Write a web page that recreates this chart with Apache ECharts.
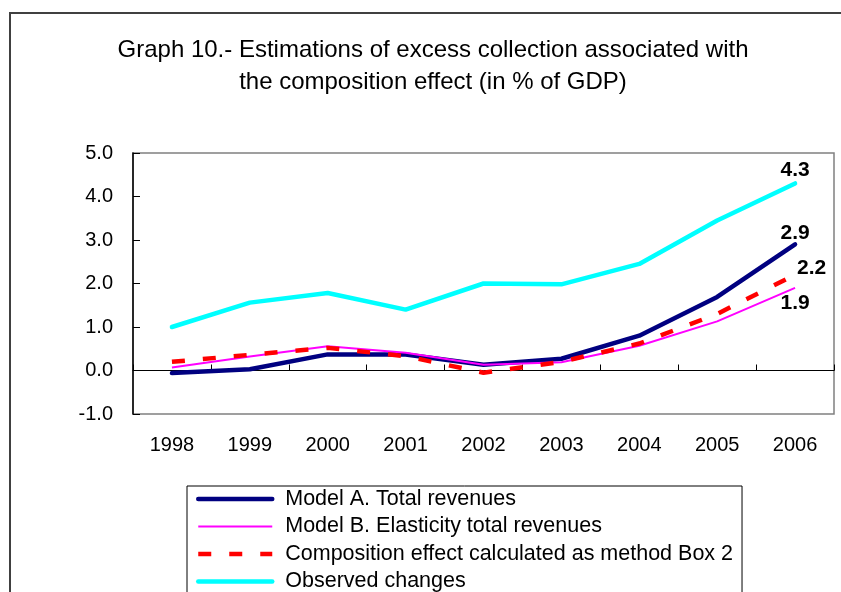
<!DOCTYPE html>
<html>
<head>
<meta charset="utf-8">
<style>
  html, body { margin: 0; padding: 0; background: #fff; }
  #chart { width: 841px; height: 592px; }
</style>
<script src="https://cdn.jsdelivr.net/npm/echarts@6/dist/echarts.min.js"></script>
</head>
<body>
<div id="chart"></div>
<script>
// Years on the category axis
const years = ['1998', '1999', '2000', '2001', '2002', '2003', '2004', '2005', '2006'];

// Excess collection estimates, % of GDP
const modelA      = [-0.06, 0.03, 0.37, 0.37, 0.13, 0.27, 0.80, 1.69, 2.9];
const modelB      = [0.07, 0.32, 0.56, 0.41, 0.13, 0.19, 0.57, 1.13, 1.9];
const composition = [0.20, 0.36, 0.52, 0.33, -0.05, 0.20, 0.62, 1.30, 2.2];
const observed    = [1.00, 1.56, 1.78, 1.40, 2.00, 1.98, 2.45, 3.45, 4.3];

const seriesNames = [
  'Model A. Total revenues',
  'Model B. Elasticity total revenues',
  'Composition effect calculated as method Box 2',
  'Observed changes'
];

const FONT = '"Liberation Sans", Arial, sans-serif';

// Line looks shared by the series and their legend entries
const styles = [
  { color: '#000080', width: 4.5, type: 'solid', cap: 'round', join: 'round' },
  { color: '#ff00ff', width: 2, type: 'solid' },
  { color: '#ff0000', width: 4.5, type: [13, 18] },
  { color: '#00ffff', width: 4.5, type: 'solid', cap: 'round', join: 'round' }
];

// Only the final year carries a value label
function withEndLabel(values, labelOpts) {
  return values.map((v, i) => i === values.length - 1
    ? { value: v, label: Object.assign({
        show: true,
        formatter: p => p.value.toFixed(1),
        fontFamily: FONT, fontSize: 21, fontWeight: 'bold', color: '#000'
      }, labelOpts) }
    : v);
}

const endLabels = [
  { position: 'top', distance: 1 },
  { position: 'bottom', distance: 5 },
  { position: 'top', distance: 0, offset: [16.5, 4] },
  { position: 'top', distance: 3 }
];
const seriesData = [modelA, modelB, composition, observed];
const zOrder = [3, 4, 5, 2];

const chart = echarts.init(document.getElementById('chart'), null, { renderer: 'canvas' });

chart.setOption({
  animation: false,
  backgroundColor: '#fff',
  title: {
    text: 'Graph 10.- Estimations of excess collection associated with\nthe composition effect (in % of GDP)',
    left: 428,
    top: 29,
    textAlign: 'center',
    textStyle: { fontFamily: FONT, fontSize: 24, fontWeight: 'normal', color: '#000', lineHeight: 32 }
  },
  graphic: [{
    type: 'rect',
    shape: { x: 10, y: 13, width: 1000, height: 1000 },
    style: { fill: 'none', stroke: '#404040', lineWidth: 2 },
    silent: true,
    z: -1
  }],
  grid: {
    left: 133, right: 7, top: 153, bottom: 178,
    show: true, borderColor: '#808080', borderWidth: 1.5
  },
  legend: {
    orient: 'vertical',
    left: 187, top: 486,
    height: 200,
    padding: [1, 9, 8, 9],
    itemGap: 3.5,
    itemWidth: 74, itemHeight: 14,
    borderColor: '#000', borderWidth: 1,
    backgroundColor: '#fff',
    itemStyle: { color: 'transparent', opacity: 0, borderWidth: 0 },
    textStyle: { fontFamily: FONT, fontSize: 21.5, color: '#000', lineHeight: 24, padding: [0, 0, 0, 8], width: 447 },
    data: seriesNames.map((name, i) => ({
      name,
      lineStyle: { color: styles[i].color, width: styles[i].width, type: styles[i].type }
    }))
  },
  xAxis: [{
    type: 'category',
    data: years,
    boundaryGap: true,
    axisLine: { show: false, onZero: false },
    axisTick: { show: false },
    axisLabel: { fontFamily: FONT, fontSize: 20, color: '#000', margin: 21 },
    splitLine: { show: false }
  }, {
    // zero line with category separators
    type: 'category',
    data: years,
    boundaryGap: true,
    position: 'bottom',
    axisLine: { show: true, onZero: true, lineStyle: { color: '#000', width: 1 } },
    axisTick: { show: true, inside: true, length: 6, lineStyle: { color: '#000' } },
    axisLabel: { show: false },
    splitLine: { show: false }
  }],
  yAxis: {
    type: 'value',
    min: -1, max: 5, interval: 1,
    axisLine: { show: true, lineStyle: { color: '#000', width: 1.5 } },
    axisTick: { show: true, inside: true, length: 7, lineStyle: { color: '#000' } },
    axisLabel: { fontFamily: FONT, fontSize: 20, color: '#000', margin: 20, formatter: v => v.toFixed(1) },
    splitLine: { show: false }
  },
  series: seriesNames.map((name, i) => ({
    name,
    type: 'line',
    // zero-size markers give the end labels an anchor
    symbol: 'circle',
    symbolSize: 0,
    showSymbol: true,
    data: withEndLabel(seriesData[i], endLabels[i]),
    lineStyle: styles[i],
    itemStyle: { color: styles[i].color },
    z: zOrder[i]
  }))
});
</script>
</body>
</html>
